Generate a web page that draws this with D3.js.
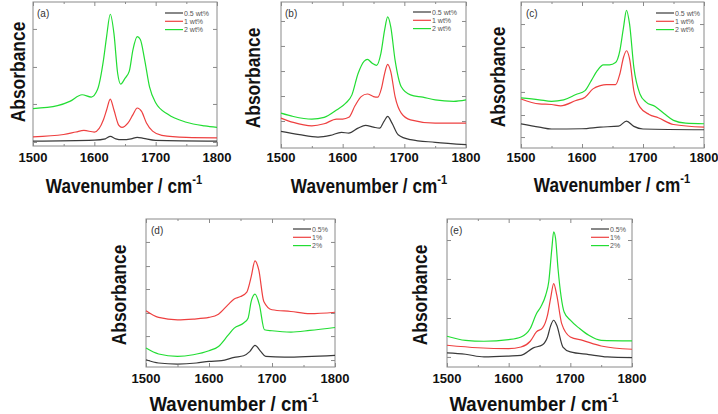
<!DOCTYPE html>
<html><head><meta charset="utf-8">
<script src="https://cdn.jsdelivr.net/npm/d3@7"></script>
<style>
body{margin:0;background:#fff;}
svg{display:block;font-family:"Liberation Sans",Arial,sans-serif;}
</style></head>
<body><svg id="c" width="718" height="414"></svg>
<script>
// ---------- data (wavenumber, absorbance in arbitrary units) ----------
const xTicks = [1500, 1600, 1700, 1800];
const xMinorTicks = [1550, 1650, 1750];
const legendWt = ["0.5 wt%", "1 wt%", "2 wt%"];
const legendPct = ["0.5%", "1%", "2%"];
const panelLabels = ["(a)", "(b)", "(c)", "(d)", "(e)"];

const a_black = [[1500,3.4],[1600,4.1],[1618,5],[1626,6.7],[1635,5],[1645,4.4],[1660,5],[1670,6],[1680,5.3],[1700,3.9],[1800,3.4]];
const a_red = [[1500,6.4],[1550,8],[1570,9.7],[1583,10.8],[1600,9.7],[1615,18.4],[1620,25],[1626,32.6],[1632,25],[1640,14.3],[1645,12.9],[1655,16],[1663,21.8],[1670,26.4],[1677,24],[1685,16],[1695,10.3],[1710,7.4],[1750,6],[1800,5.7]];
const a_green = [[1500,26],[1540,28],[1560,31],[1580,35.6],[1595,34],[1605,39],[1615,60],[1620,76],[1626,91.5],[1632,78],[1638,50.5],[1643,43],[1650,47],[1657,52],[1663,67],[1670,76],[1675,74],[1682,60],[1690,41],[1700,30],[1720,22],[1750,16.5],[1780,14],[1800,13]];
const a_yTicks = [2.8, 29.2, 54.9, 81.3];

const b_black = [[1500,11.4],[1530,9.1],[1560,7.5],[1580,8.6],[1598,10.7],[1610,10.2],[1625,13.6],[1637,15.5],[1650,14.3],[1660,13.6],[1667,18.2],[1673,21.6],[1680,17],[1690,9.1],[1710,5.7],[1750,3.9],[1800,2.3]];
const b_red = [[1500,20.5],[1520,17.5],[1550,15.2],[1570,16.6],[1590,19.8],[1600,19.8],[1610,21],[1620,28.9],[1630,35.2],[1640,37],[1650,35.2],[1657,34.8],[1663,41],[1668,51],[1673,57.3],[1678,52.3],[1685,35.2],[1695,23.9],[1710,19.3],[1750,17],[1800,17]];
const b_green = [[1500,23.9],[1520,21.6],[1550,19.8],[1570,21],[1590,26],[1605,30.7],[1615,36.4],[1625,51],[1635,59.5],[1640,60.7],[1648,58],[1655,56.6],[1662,64.8],[1668,80.7],[1673,89.8],[1678,83],[1685,60.2],[1695,42],[1710,36.4],[1730,34.8],[1750,33],[1780,32],[1800,33]];
const b_yTicks = [18.5, 35.6, 52.7, 69.9, 87];

const c_black = [[1500,16.6],[1530,14.3],[1550,13],[1600,13.2],[1630,14.3],[1660,15],[1673,18.4],[1685,14.8],[1700,13],[1800,12.5]];
const c_red = [[1500,33.6],[1530,30.2],[1550,29.8],[1565,28.9],[1590,32.5],[1605,34.8],[1618,40.5],[1630,42.7],[1640,43.4],[1655,43.4],[1662,50.7],[1668,62],[1673,66.6],[1678,61],[1685,39.3],[1695,28],[1710,23],[1725,20.7],[1750,16.1],[1800,14.3]];
const c_green = [[1500,34.3],[1530,33],[1550,32],[1570,33],[1590,36.6],[1605,39.3],[1615,46],[1625,53],[1635,57],[1645,57],[1655,58.6],[1662,66.6],[1668,82.5],[1673,94.3],[1678,84.8],[1685,55.2],[1695,37],[1705,31.4],[1720,28.4],[1735,23.4],[1750,18.9],[1770,17],[1800,16.6]];
const c_yTicks = [7.5, 22.6, 38.4, 54.1, 69.2, 84.9];

const d_black = [[1500,4.9],[1520,2.7],[1550,2],[1580,2.7],[1600,3.8],[1620,4.3],[1640,6.5],[1655,7.6],[1665,10.6],[1673,14.6],[1682,10.6],[1690,7.2],[1720,6.7],[1800,7.9]];
const d_red = [[1500,38],[1520,33.5],[1550,31.9],[1575,32.4],[1600,33.5],[1615,35.7],[1630,42],[1640,46],[1650,47.6],[1660,50.6],[1667,61],[1673,71.7],[1679,65.6],[1687,44.3],[1700,38.7],[1730,37.5],[1760,36],[1800,37]];
const d_green = [[1500,12.8],[1520,8.8],[1550,7.2],[1575,8.3],[1600,11],[1615,13.9],[1630,21.3],[1640,26.3],[1655,29.7],[1662,33],[1667,44.3],[1673,49.2],[1680,42],[1688,25.2],[1700,24.5],[1730,23.6],[1760,24.7],[1800,26.7]];
const d_yTicks = [4.7, 20.9, 36.5, 52.7, 68.2, 84.5];

const e_black = [[1500,9.5],[1530,8.6],[1560,6.8],[1600,7.4],[1620,7.9],[1640,12.9],[1655,15.1],[1663,20.3],[1668,27.8],[1673,31.6],[1678,28.2],[1688,13.5],[1700,10.2],[1730,8.4],[1760,6.8],[1800,6.3]];
const e_red = [[1500,14.7],[1550,13],[1600,12.4],[1620,13.5],[1635,17.4],[1645,23.7],[1655,26.4],[1663,35],[1668,46.3],[1673,56.4],[1678,48.5],[1686,29.3],[1700,20.3],[1720,18],[1750,14.2],[1800,12]];
const e_green = [[1500,20.8],[1530,18],[1560,17.4],[1600,18.5],[1620,20.3],[1635,26],[1645,36],[1652,40.6],[1660,48.5],[1665,57.6],[1670,80],[1673,91.4],[1676,87],[1680,66.6],[1690,37.2],[1700,31.6],[1715,26],[1730,21.4],[1750,18],[1800,17.6]];
const e_yTicks = [6.8, 33.1, 59.5, 85.8];

// ---------- layout ----------
const colors = ["#3a3a3a", "#ee4040", "#22dd33"];
const panels = [
  {label:panelLabels[0], series:[a_black,a_red,a_green], yTicks:a_yTicks, legend:legendWt,
   box:[33,217,2,146], ylab:[18,72], xlab:[124,193,0.86], tickY:161.5, leg:[165,13], lab:[37,17]},
  {label:panelLabels[1], series:[b_black,b_red,b_green], yTicks:b_yTicks, legend:legendWt,
   box:[281,466,2,148], ylab:[253,78], xlab:[369,193,0.86], tickY:162, leg:[413,12], lab:[285,17]},
  {label:panelLabels[2], series:[c_black,c_red,c_green], yTicks:c_yTicks, legend:legendWt,
   box:[521,704,2,148], ylab:[498,77], xlab:[612,192,0.86], tickY:162, leg:[656,13], lab:[526,17]},
  {label:panelLabels[3], series:[d_black,d_red,d_green], yTicks:d_yTicks, legend:legendPct,
   box:[146,335,219,367], ylab:[119,295], xlab:[234,410.5,0.93], tickY:382.5, leg:[293,229], lab:[151,234]},
  {label:panelLabels[4], series:[e_black,e_red,e_green], yTicks:e_yTicks, legend:legendPct,
   box:[447,632,219,367], ylab:[420,295], xlab:[534,410.5,0.93], tickY:382.5, leg:[591,229], lab:[450,234]}
];

const svg = d3.select("#c");
const frameColor = "#8a8a8a";

panels.forEach(p => {
  const [x0,x1,y0,y1] = p.box;
  const x = d3.scaleLinear().domain([1500,1800]).range([x0,x1]);
  const y = d3.scaleLinear().domain([0,100]).range([y1,y0]);
  const g = svg.append("g");

  // frame
  g.append("rect").attr("x",x0).attr("y",y0).attr("width",x1-x0).attr("height",y1-y0)
    .attr("fill","none").attr("stroke",frameColor).attr("stroke-width",1);

  // ticks (inward, mirrored)
  const bottomAx = d3.axisBottom(x).tickValues(xTicks).tickSize(-4).tickFormat("");
  const topAx = d3.axisTop(x).tickValues(xTicks).tickSize(-4).tickFormat("");
  const bottomMinor = d3.axisBottom(x).tickValues(xMinorTicks).tickSize(-2).tickFormat("");
  const topMinor = d3.axisTop(x).tickValues(xMinorTicks).tickSize(-2).tickFormat("");
  const leftAx = d3.axisLeft(y).tickValues(p.yTicks).tickSize(-4).tickFormat("");
  const rightAx = d3.axisRight(y).tickValues(p.yTicks).tickSize(-4).tickFormat("");
  [[bottomAx,`translate(0,${y1})`],[bottomMinor,`translate(0,${y1})`],
   [topAx,`translate(0,${y0})`],[topMinor,`translate(0,${y0})`],
   [leftAx,`translate(${x0},0)`],[rightAx,`translate(${x1},0)`]].forEach(([ax,t]) => {
    const a = g.append("g").attr("transform",t).call(ax);
    a.select(".domain").remove();
    a.selectAll("line").attr("stroke",frameColor);
  });

  // tick labels
  g.selectAll("text.tl").data(xTicks).join("text").attr("class","tl")
    .attr("x",d=>x(d)).attr("y",p.tickY).attr("text-anchor","middle")
    .attr("font-size",13).attr("font-weight","bold").attr("fill","#111").text(d=>d);

  // curves
  const line = d3.line().x(d=>x(d[0])).y(d=>y(d[1])).curve(d3.curveMonotoneX);
  p.series.forEach((s,i) => {
    g.append("path").attr("d",line(s)).attr("fill","none")
      .attr("stroke",colors[i]).attr("stroke-width",1.2);
  });

  // panel label
  g.append("text").attr("x",p.lab[0]).attr("y",p.lab[1]).attr("font-size",10)
    .attr("fill","#333").text(p.label);

  // legend
  p.legend.forEach((t,i) => {
    const ly = p.leg[1] + i*8.3;
    g.append("line").attr("x1",p.leg[0]).attr("x2",p.leg[0]+18).attr("y1",ly).attr("y2",ly)
      .attr("stroke",colors[i]).attr("stroke-width",1.2);
    g.append("text").attr("x",p.leg[0]+19).attr("y",ly+2.5).attr("font-size",7)
      .attr("fill","#555").text(t);
  });

  // axis titles (tall, slightly condensed bold face)
  g.append("text").attr("transform",`translate(${p.ylab[0]},${p.ylab[1]}) rotate(-90) scale(0.83,1)`)
    .attr("text-anchor","middle").attr("dominant-baseline","central")
    .attr("font-size",21).attr("font-weight","bold").attr("fill","#111").text("Absorbance");
  const xt = g.append("text").attr("transform",`translate(${p.xlab[0]},${p.xlab[1]}) scale(${p.xlab[2]},1)`)
    .attr("text-anchor","middle").attr("font-size",20).attr("font-weight","bold").attr("fill","#111");
  xt.append("tspan").text("Wavenumber / cm");
  xt.append("tspan").attr("dy",-9).attr("font-size",13).text("-1");
});
</script>
</body></html>
